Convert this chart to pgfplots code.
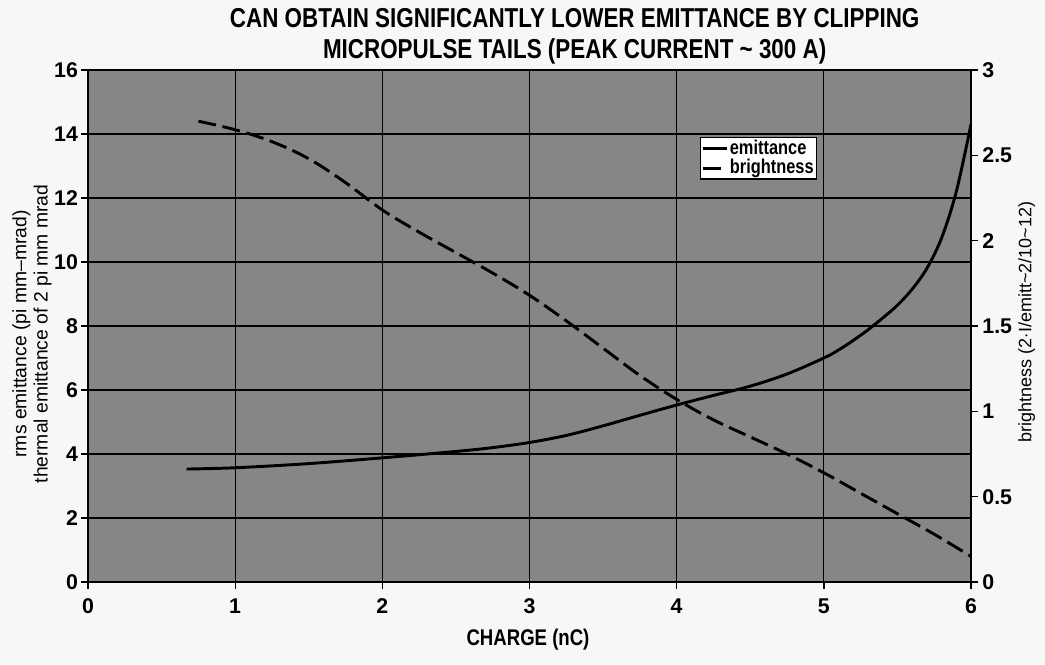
\documentclass[border=0pt]{standalone}
\usepackage{pgfplots}
\pgfplotsset{compat=1.18}
\usepackage{fontspec}
\setmainfont{Liberation Sans}
\newfontfamily\condfont[FakeStretch=0.82]{Liberation Sans}
\definecolor{pagebg}{RGB}{247,247,247}
\definecolor{plotbg}{RGB}{134,134,134}

\pgfplotstableread{
x y
0.67 3.53
1.0 3.57
1.5 3.70
2.0 3.88
2.5 4.08
2.75 4.20
3.0 4.36
3.25 4.58
3.5 4.88
3.75 5.21
4.0 5.53
4.25 5.83
4.5 6.12
4.75 6.50
5.0 7.00
5.1 7.25
5.2 7.55
5.3 7.88
5.4 8.25
5.5 8.65
5.6 9.15
5.7 9.80
5.8 10.75
5.9 12.2
6.0 14.3
}\emittance

\pgfplotstableread{
x y
0.75 2.70
1.0 2.65
1.25 2.58
1.5 2.48
1.75 2.34
2.0 2.18
2.25 2.05
2.5 1.93
2.75 1.81
3.0 1.68
3.25 1.53
3.5 1.37
3.75 1.21
4.0 1.07
4.25 0.95
4.5 0.85
4.75 0.75
5.0 0.64
5.25 0.52
5.5 0.40
5.75 0.28
6.0 0.15
}\brightness

\begin{document}
\begin{tikzpicture}
\fill[pagebg] (-66pt,-61.5pt) rectangle (717.75pt,436.5pt);
\useasboundingbox (-66pt,-61.5pt) rectangle (717.75pt,436.5pt);

\begin{axis}[
  at={(0pt,0pt)}, anchor=south west, scale only axis,
  width=662.25pt, height=384pt,
  xmin=0, xmax=6, ymin=0, ymax=16,
  xtick={0,1,...,6}, ytick={0,2,...,16},
  xtick pos=lower, ytick pos=left,
  axis background/.style={fill=plotbg},
  grid=major, major grid style={black, line width=0.9pt},
  axis line style={black, line width=1.6pt},
  tick align=outside, major tick length=5pt,
  tick style={black, line width=1pt},
  tick label style={font=\fontsize{16}{16}\selectfont\bfseries},
  /pgf/number format/assume math mode=true,
  xticklabel style={yshift=-4pt},
  yticklabel style={xshift=1pt},
]
\addplot[black, line width=2.2pt, smooth, tension=0.55] table {\emittance};
\end{axis}

\begin{axis}[
  at={(0pt,0pt)}, anchor=south west, scale only axis,
  width=662.25pt, height=384pt,
  xmin=0, xmax=6, ymin=0, ymax=3,
  axis x line=none, axis y line*=right,
  ytick={0,0.5,...,3}, yticklabels={0,0.5,1,1.5,2,2.5,3},
  axis line style={black, line width=1.6pt},
  tick align=outside, major tick length=5pt,
  tick style={black, line width=1pt},
  tick label style={font=\fontsize{16}{16}\selectfont\bfseries},
  /pgf/number format/assume math mode=true,
  legend style={at={(0.8256,0.869)}, anchor=north east,
    draw=black, line width=1pt, fill=white,
    font=\condfont\fontsize{15}{15}\selectfont\bfseries,
    inner sep=1pt, row sep=0pt,
    nodes={inner sep=1pt, text height=10.5pt, text depth=2pt}},
  legend cell align=left,
  legend image code/.code={\draw[#1] (0pt,0pt) -- (18pt,0pt);},
]
\addlegendimage{black, solid, line width=2.2pt}
\addlegendentry{emittance}
\addplot[black, line width=2.2pt, smooth, tension=0.6, dash pattern=on 13.5pt off 5pt] table {\brightness};
\addlegendentry{brightness}
\end{axis}

\node[font=\condfont\fontsize{20.5}{20.5}\selectfont\bfseries] at (365pt,423pt) {CAN OBTAIN SIGNIFICANTLY LOWER EMITTANCE BY CLIPPING};
\node[font=\condfont\fontsize{20.5}{20.5}\selectfont\bfseries] at (365pt,398pt) {MICROPULSE TAILS (PEAK CURRENT \textasciitilde\ 300 A)};
\node[font=\condfont\fontsize{17}{17}\selectfont\bfseries] at (330pt,-43.5pt) {CHARGE (nC)};
\node[rotate=90, align=center, font=\fontsize{14.5}{16}\selectfont] at (-42pt,186pt) {rms emittance (pi mm–mrad)\\thermal emittance of 2 pi mm mrad};
\node[rotate=90, font=\fontsize{13.5}{15}\selectfont] at (704pt,195pt) {brightness (2$\cdot$I/emitt\textasciitilde 2/10\textasciitilde 12)};
\end{tikzpicture}
\end{document}
